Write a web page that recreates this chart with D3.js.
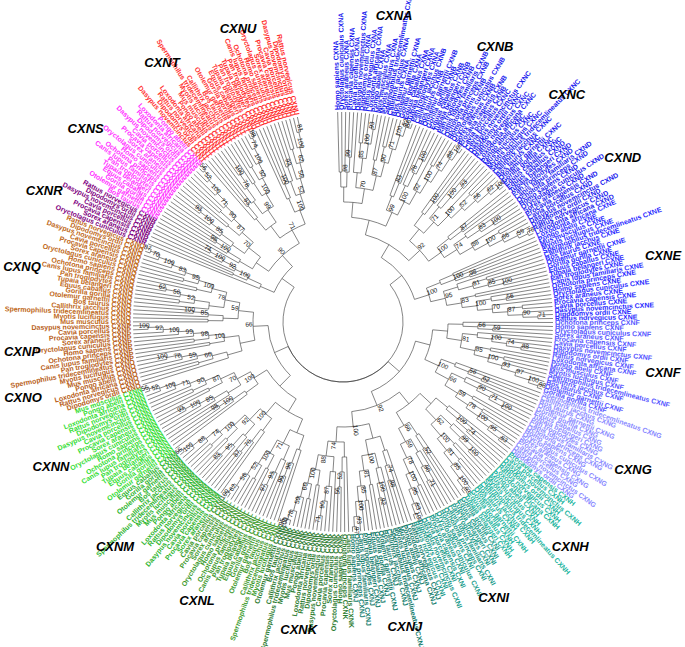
<!DOCTYPE html>
<html><head><meta charset="utf-8">
<script src="https://cdn.jsdelivr.net/npm/d3@7"></script>
<style>body{margin:0;background:#fff}</style></head>
<body><svg id="c" width="685" height="647"></svg>
<script>
const clades = ["CXNA","CXNB","CXNC","CXND","CXNE","CXNF","CXNG","CXNH","CXNI","CXNJ","CXNK","CXNL","CXNM","CXNN","CXNO","CXNP","CXNQ","CXNR","CXNS","CXNT","CXNU"];
const cladeSizes = [20,14,14,14,22,18,17,16,14,16,18,16,16,18,7,9,20,7,18,15,12];
const cladeColors = ["#1a1aee","#1a1aee","#1a1aee","#1a1aee","#2a2aff","#5555ff","#8a8aff","#22b5a0","#1a9c8c","#17806f","#2e7d32","#3d9a2c","#2fb52f","#33dd33","#b85e18","#b85e18","#c06818","#800080","#ff33ff","#ff3333","#ff2a2a"];
const species = ["Homo sapiens","Pan troglodytes","Gorilla gorilla","Callithrix jacchus","Mus musculus","Rattus norvegicus","Cavia porcellus","Oryctolagus cuniculus","Canis lupus familiaris","Equus caballus","Bos taurus","Myotis lucifugus","Loxodonta africana","Dasypus novemcinctus","Sorex araneus","Ochotona princeps","Tupaia belangeri","Otolemur garnettii","Spermophilus tridecemlineatus","Pongo abelii","Dipodomys ordii","Procavia capensis"];
const bootVals = [100,99,98,100,97,93,100,85,81,100,62,56,52,100,71,90,87,70,100,83,95,100,78,59,66,100,88,74,100,92];
const topology = [[[[0,1],[2,3]],4],[[5,6],[[7,8],[9,10]]],[[[11,12],13],[[14,15],16]],[17,[18,[19,20]]]];

const W=685,H=647,cx=343,cy=322,rLeaf=210;
const svg=d3.select("#c");
const g=svg.append("g").attr("transform",`translate(${cx},${cy})`);

let bi=0;
function buildClade(ci){
  const n=cladeSizes[ci];
  const leaves=d3.range(n).map(i=>({name:species[(i*7+ci*3)%species.length]+" "+clades[ci],clade:ci}));
  function rec(arr,lvl){
    if(arr.length===1) return arr[0];
    let k=arr.length<=3?1:Math.max(1,Math.floor(arr.length*(lvl%2?0.4:0.25)));
    return {children:[rec(arr.slice(0,k),lvl+1),rec(arr.slice(k),lvl+1)],boot:bootVals[(bi++)%bootVals.length]};
  }
  return rec(leaves,0);
}
function buildTop(t){
  if(typeof t==="number") return buildClade(t);
  return {children:t.map(buildTop),boot:bootVals[(bi++)%bootVals.length]};
}
const root=d3.hierarchy(buildTop(topology));
const a0=-2*Math.PI/180, a1=348*Math.PI/180;
d3.cluster().size([a1-a0,1]).separation(()=>1)(root);
root.each(d=>{d.x+=a0;});
root.each(d=>{
  if(!d.children) d.r=rLeaf;
  else if(d.depth===0) d.r=0;
  else d.r=Math.min(rLeaf-5, 60+d.depth*15);
});
const pt=(a,r)=>[r*Math.sin(a),-r*Math.cos(a)];
g.append("g").selectAll("path").data(root.links()).join("path")
 .attr("fill","none").attr("stroke","#333").attr("stroke-width",0.6)
 .attr("d",l=>{
   const s=l.source,t=l.target;
   const sr=s.depth===0?60:s.r;
   const p0=pt(s.x,sr),p1=pt(t.x,sr),p2=pt(t.x,t.r);
   const sweep=t.x>s.x?1:0;
   return `M${p0}A${sr},${sr} 0 0 ${sweep} ${p1}L${p2}`;
 });
g.append("g").selectAll("text").data(root.descendants().filter((d,i)=>d.children&&d.depth>1&&i%2===0))
 .join("text").attr("font-family","Liberation Sans, Arial").attr("font-size",6.5)
 .attr("text-anchor","middle").attr("fill","#111")
 .attr("transform",d=>{const p=pt(d.x,d.r+4);let deg=d.x*180/Math.PI;deg=deg>180?deg-270:deg-90;return `translate(${p}) rotate(${deg})`;})
 .text(d=>d.data.boot);
g.append("g").selectAll("text").data(root.leaves()).join("text")
 .attr("font-family","Liberation Sans, Arial").attr("font-size",7).attr("font-weight","bold")
 .attr("fill",d=>cladeColors[d.data.clade]).attr("dy","0.32em")
 .attr("transform",d=>{const deg=d.x*180/Math.PI-90;const p=pt(d.x,rLeaf+2);return `translate(${p}) rotate(${deg>90?deg-180:deg})`;})
 .attr("text-anchor",d=>d.x*180/Math.PI-90>90?"end":"start")
 .text(d=>d.data.name);
const cl=clades.map((c,i)=>{const ls=root.leaves().filter(d=>d.data.clade===i);return {c,a:(ls[0].x+ls[ls.length-1].x)/2};});
g.append("g").selectAll("text").data(cl).join("text")
 .attr("font-family","Liberation Sans, Arial").attr("font-size",13).attr("font-weight","bold").attr("font-style","italic")
 .attr("text-anchor","middle").attr("dy","0.35em")
 .attr("x",d=>Math.max(-cx+22,Math.min(W-cx-22,pt(d.a,330)[0])))
 .attr("y",d=>Math.max(-cy+10,Math.min(H-cy-10,pt(d.a,310)[1]))).text(d=>d.c);
</script></body></html>
